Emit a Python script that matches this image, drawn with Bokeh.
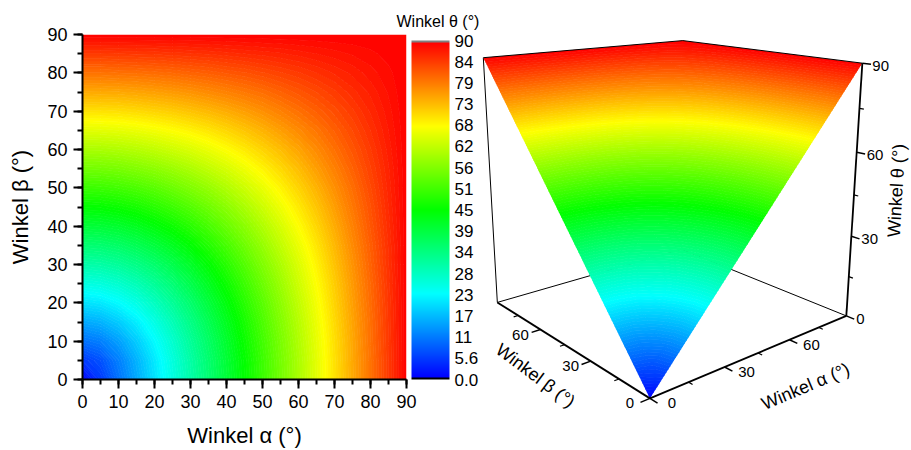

import numpy as np
from bokeh.core.properties import value
from bokeh.embed import file_html
from bokeh.layouts import row
from bokeh.models import (ColorBar, FixedTicker, LinearColorMapper,
                          Range1d, SingleIntervalTicker, Title)
from bokeh.plotting import figure
from bokeh.resources import INLINE

FONT = "Liberation Sans"

# Grid positions (degrees) at which the values were read
grid_deg = list(range(0, 95, 5))

# Winkel theta; upper triangle, row i starts at column i (the map is mirror-symmetric)
theta_rows = [
    [0.0, 5.0, 10.0, 15.0, 20.0, 25.0, 30.0, 35.0, 40.0, 45.0, 50.0, 55.0, 60.0, 65.0, 70.0, 75.0, 80.0, 85.0, 90.0],
    [7.1, 11.2, 15.8, 20.6, 25.5, 30.4, 35.3, 40.3, 45.2, 50.2, 55.2, 60.1, 65.1, 70.1, 75.1, 80.0, 85.0, 90.0],
    [14.1, 18.0, 22.3, 26.8, 31.5, 36.2, 41.0, 45.9, 50.7, 55.6, 60.5, 65.4, 70.3, 75.2, 80.2, 85.1, 90.0],
    [21.1, 24.8, 28.9, 33.2, 37.7, 42.3, 46.9, 51.6, 56.4, 61.1, 65.9, 70.7, 75.5, 80.3, 85.2, 90.0],
    [28.0, 31.6, 35.5, 39.7, 44.0, 48.4, 52.8, 57.4, 62.0, 66.6, 71.3, 75.9, 80.6, 85.3, 90.0],
    [34.8, 38.3, 42.1, 46.0, 50.1, 54.4, 58.7, 63.1, 67.5, 71.9, 76.4, 80.9, 85.5, 90.0],
    [41.4, 44.8, 48.4, 52.2, 56.2, 60.2, 64.3, 68.5, 72.8, 77.0, 81.4, 85.7, 90.0],
    [47.9, 51.1, 54.6, 58.2, 62.0, 65.8, 69.7, 73.7, 77.8, 81.8, 85.9, 90.0],
    [54.1, 57.2, 60.5, 63.9, 67.5, 71.1, 74.8, 78.6, 82.4, 86.2, 90.0],
    [60.0, 63.0, 66.1, 69.3, 72.6, 76.0, 79.5, 82.9, 86.5, 90.0],
    [65.6, 68.4, 71.3, 74.2, 77.3, 80.4, 83.6, 86.8, 90.0],
    [70.8, 73.3, 76.0, 78.7, 81.5, 84.3, 87.1, 90.0],
    [75.5, 77.8, 80.2, 82.6, 85.0, 87.5, 90.0],
    [79.7, 81.7, 83.7, 85.8, 87.9, 90.0],
    [83.3, 84.9, 86.6, 88.3, 90.0],
    [86.2, 87.4, 88.7, 90.0],
    [88.3, 89.1, 90.0],
    [89.6, 90.0],
    [90.0],
]

# Colour bar tick labels
bar_ticks = [0.0, 5.625, 11.25, 16.875, 22.5, 28.125, 33.75, 39.375, 45.0, 50.625,
             56.25, 61.875, 67.5, 73.125, 78.75, 84.375, 90.0]
bar_labels = ["0.0", "5.6", "11", "17", "23", "28", "34", "39", "45", "51",
              "56", "62", "68", "73", "79", "84", "90"]

# Tick values on the 3D box
major_3d = [0, 30, 60]
minor_3d = [15, 45, 75]
theta_major_3d = [0, 30, 60, 90]
theta_labels_3d = ["0", "30", "60", "90"]

# Colours
ANCHORS = np.array([[0, 0, 255], [0, 255, 255], [0, 255, 0], [255, 255, 0], [255, 0, 0]], float)


def ramp(fracs):
    pos = np.linspace(0, 1, len(ANCHORS))
    chans = [np.interp(fracs, pos, ANCHORS[:, c]) for c in range(3)]
    return ["#%02x%02x%02x" % (int(round(r)), int(round(g)), int(round(b))) for r, g, b in zip(*chans)]


N_BANDS = 128
levels = list(np.linspace(0, 90, N_BANDS + 1))
fill_cols = ramp((np.arange(N_BANDS) + 0.5) / N_BANDS)
line_cols = ramp(np.arange(N_BANDS + 1) / N_BANDS)
BAR_H = 339
# the bar's end caps: black below the range, grey above it
palette = ["#000000"] * 2 + ramp((np.arange(BAR_H - 4) + 0.5) / (BAR_H - 4)) + ["#808080"] * 2

n = len(grid_deg)
theta = np.zeros((n, n))
for i, r in enumerate(theta_rows):
    for j, v in enumerate(r):
        theta[i, i + j] = v
        theta[i + j, i] = v
theta[-1, -1] = 90.0
grid = np.array(grid_deg, float)
A_mesh, B_mesh = np.meshgrid(grid, grid)  # x = alpha, y = beta

# ---------------------- left: map + colour bar ----------------------
FR_L, FR_T, FR_B = 82, 34, 379
p1 = figure(width=481, height=450, output_backend="svg", toolbar_location=None,
            x_range=Range1d(0, 90), y_range=Range1d(0, 90), frame_align=False,
            min_border_left=FR_L, min_border_top=FR_T, min_border_bottom=450 - FR_B, min_border_right=0)
p1.outline_line_color = None
p1.grid.visible = False
p1.contour(A_mesh, B_mesh, theta, levels=levels, fill_color=fill_cols, line_color=line_cols, line_width=1)

for ax in (p1.xaxis[0], p1.yaxis[0]):
    ax.ticker = SingleIntervalTicker(interval=10, num_minor_ticks=2)
    ax.axis_line_width = 2
    ax.major_tick_line_width = 2
    ax.minor_tick_line_width = 2
    ax.major_tick_in = 0
    ax.major_tick_out = 9
    ax.minor_tick_in = 0
    ax.minor_tick_out = 5
    ax.major_label_text_font = FONT
    ax.major_label_text_font_size = "18px"
    ax.major_label_text_color = "black"
    ax.axis_label_text_font = FONT
    ax.axis_label_text_font_size = "22px"
    ax.axis_label_text_font_style = "normal"
    ax.axis_label_text_color = "black"
p1.xaxis[0].axis_label = "Winkel α (°)"
p1.yaxis[0].axis_label = "Winkel β (°)"
p1.xaxis[0].major_label_standoff = 6
p1.yaxis[0].major_label_standoff = 6
p1.xaxis[0].axis_label_standoff = 12
p1.yaxis[0].axis_label_standoff = 11

mapper = LinearColorMapper(palette=palette, low=0, high=90)
cb = ColorBar(color_mapper=mapper, width=38, height=BAR_H, padding=0, margin=8, location=(5, 0),
              ticker=FixedTicker(ticks=bar_ticks),
              major_label_overrides={t: s for t, s in zip(bar_ticks, bar_labels)},
              major_tick_line_color=None, minor_tick_line_color=None, bar_line_color=None,
              label_standoff=5, major_label_text_font=FONT, major_label_text_font_size="17px",
              major_label_text_color="black")
p1.add_layout(cb, "right")
p1.add_layout(Title(text="Winkel θ (°)", align="left", offset=396 - FR_L, standoff=9, text_font=FONT,
                    text_font_size="16px", text_font_style="normal", text_color="black"), "above")

# ---------------------- right: 3D surface ----------------------
# Corners of the box in page pixels: (alpha/90, beta/90, theta/90) -> (x, y)
corner_uvt = [(0, 0, 0), (1, 0, 0), (0, 1, 0), (1, 1, 0), (1, 0, 1), (0, 1, 1), (1, 1, 1)]
corner_px = [(649, 398), (846, 315), (497, 302), (681, 249), (862, 63), (483, 57), (682, 40)]
rowsA, rhs = [], []
for (u, v, t), (px, py) in zip(corner_uvt, corner_px):
    rowsA.append([u, v, t, 1, 0, 0, 0, 0, -px * u, -px * v, -px * t]); rhs.append(px)
    rowsA.append([0, 0, 0, 0, u, v, t, 1, -py * u, -py * v, -py * t]); rhs.append(py)
m = np.linalg.lstsq(np.array(rowsA, float), np.array(rhs, float), rcond=None)[0]


def proj(a, b, t):
    u, v, w = np.asarray(a, float) / 90, np.asarray(b, float) / 90, np.asarray(t, float) / 90
    d = m[8] * u + m[9] * v + m[10] * w + 1
    return (m[0] * u + m[1] * v + m[2] * w + m[3]) / d, (m[4] * u + m[5] * v + m[6] * w + m[7]) / d


p2 = figure(width=430, height=450, output_backend="svg", toolbar_location=None,
            x_range=Range1d(481, 911), y_range=Range1d(450, 0), frame_align=False,
            min_border=0, min_border_left=0, min_border_right=0, min_border_top=0, min_border_bottom=0)
p2.outline_line_color = None
p2.grid.visible = False
p2.axis.visible = False


def seg(a0, b0, t0, a1, b1, t1, w=1.0):
    x0, y0 = proj(a0, b0, t0)
    x1, y1 = proj(a1, b1, t1)
    p2.line([float(x0), float(x1)], [float(y0), float(y1)], line_color="black", line_width=w)


seg(0, 90, 0, 90, 90, 0)
seg(90, 0, 0, 90, 90, 0)
seg(0, 90, 0, 0, 90, 90)

X3, Y3 = proj(A_mesh, B_mesh, theta)
p2.contour(X3, Y3, theta, levels=levels, fill_color=fill_cols, line_color=line_cols, line_width=1)

seg(0, 90, 90, 90, 90, 90)
seg(90, 0, 90, 90, 90, 90)
seg(0, 0, 0, 90, 0, 0, 1.8)
seg(0, 0, 0, 0, 90, 0, 1.8)
seg(90, 0, 0, 90, 0, 90, 1.8)

MAJ, MINOR = 3.5, 1.8
for a in major_3d:
    seg(a, 0, 0, a, -MAJ, 0, 1.5)
    seg(0, a, 0, -MAJ, a, 0, 1.5)
for a in minor_3d:
    seg(a, 0, 0, a, -MINOR, 0, 1.2)
    seg(0, a, 0, -MINOR, a, 0, 1.2)
for t in theta_major_3d:
    seg(90, 0, t, 90, -MAJ, t, 1.5)
for t in minor_3d:
    seg(90, 0, t, 90, -MINOR, t, 1.2)

ts = dict(text_font=value(FONT), text_font_size="15px", text_color="black", text_baseline="middle")
xa, ya = proj(major_3d, [0] * 3, [0] * 3)
p2.text(xa, ya, text=[str(v) for v in major_3d], x_offset=22, y_offset=5, text_align="center", **ts)
xb, yb = proj([0] * 3, major_3d, [0] * 3)
p2.text(xb, yb, text=[str(v) for v in major_3d], x_offset=-20, y_offset=5, text_align="center", **ts)
xt, yt = proj([90] * 4, [0] * 4, theta_major_3d)
p2.text(xt, yt, text=theta_labels_3d, x_offset=10, y_offset=3, text_align="left", **ts)

ls = dict(text_font=value(FONT), text_font_size="18px", text_color="black",
          text_baseline="middle", text_align="center")
p2.text([805], [386], text=["Winkel α (°)"], angle=np.radians(23), **ls)
p2.text([535], [375], text=["Winkel β (°)"], angle=np.radians(-37), **ls)
p2.text([896], [190], text=["Winkel θ (°)"], angle=np.radians(86.5), **ls)

open("out.html", "w").write(file_html(row(p1, p2), INLINE))
